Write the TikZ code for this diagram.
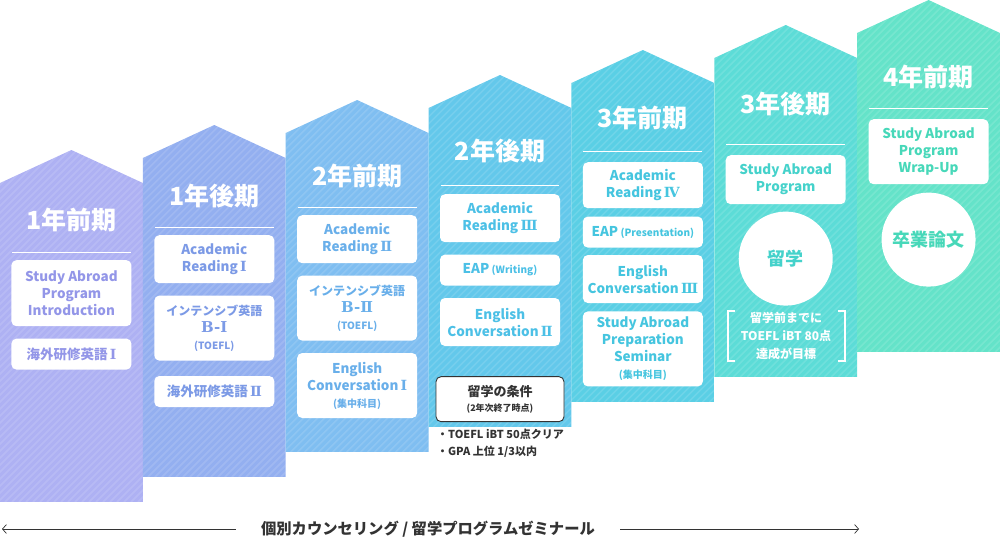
\documentclass[tikz,border=0pt]{standalone}
\usepackage{fontspec}
\setmainfont{Noto Sans CJK JP}
\newfontfamily\numfont{DejaVu Serif}
\usepackage{tikz}
\usetikzlibrary{positioning, arrows.meta}

\definecolor{colA}{HTML}{AEB1F3}
\definecolor{colB}{HTML}{93AFF0}
\definecolor{colC}{HTML}{7FBEF1}
\definecolor{colD}{HTML}{63C8EB}
\definecolor{colE}{HTML}{5ACFE5}
\definecolor{colF}{HTML}{5CDCD7}
\definecolor{colG}{HTML}{64E3C9}
\definecolor{txA}{HTML}{9396E8}
\definecolor{txB}{HTML}{7C9AE6}
\definecolor{txC}{HTML}{69AFEA}
\definecolor{txD}{HTML}{4CC0E6}
\definecolor{txE}{HTML}{45C5DF}
\definecolor{txF}{HTML}{45D2CB}
\definecolor{txG}{HTML}{47D8B9}
\definecolor{ink}{HTML}{333333}

\newcommand{\subtxt}[1]{{\fontsize{10}{13}\selectfont #1}}
\newcommand{\rn}[1]{\,{\numfont\bfseries\fontsize{14}{17}\selectfont #1}}
\newcommand{\grade}[1]{{\numfont\bfseries\fontsize{15}{15}\selectfont B-#1}}

\begin{document}
\begin{tikzpicture}[x=1pt, y=-1pt]
      \tikzstyle{term} = [text=white, font=\bfseries\fontsize{25}{27}\selectfont]
      \tikzstyle{course} = [rectangle, rounded corners=5pt, fill=white, minimum width=120pt, inner sep=0pt, align=center, font=\bfseries\fontsize{13.5}{17}\selectfont]
      \tikzstyle{abroad} = [circle, fill=white, minimum size=94pt, inner sep=0pt, font=\bfseries\fontsize{18}{20}\selectfont]
      \tikzstyle{condbox} = [rectangle, rounded corners=5pt, draw=ink, line width=0.9pt, fill=white, minimum width=128pt, minimum height=45pt, inner sep=0pt, align=center, text=ink, font=\bfseries\fontsize{13}{15}\selectfont]
      \tikzstyle{rule} = [white, line width=0.8pt]
      \tikzstyle{arrow} = [ink, line width=0.7pt, -{Straight Barb[length=4pt,width=9pt]}]

      \useasboundingbox (0,0) rectangle (1000,539);

      % stepped columns
      \foreach \i/\c in {0/colA,1/colB,2/colC,3/colD,4/colE,5/colF,6/colG}{
        \pgfmathsetmacro{\xl}{142.857*\i}
        \pgfmathsetmacro{\xr}{142.857*(\i+1)}
        \pgfmathsetmacro{\xm}{142.857*(\i+0.5)}
        \pgfmathsetmacro{\yp}{150-25*\i}
        \pgfmathsetmacro{\ys}{183-25*\i}
        \pgfmathsetmacro{\yb}{502-25*\i}
        \begin{scope}
          \path[clip] (\xl,\yb) -- (\xl,\ys) -- (\xm,\yp) -- (\xr,\ys) -- (\xr,\yb) -- cycle;
          \fill[\c] (\xl-1,0) rectangle (\xr+1,\yb);
          \foreach \s in {-520,-513,...,150}
            \draw[white, opacity=0.12, line width=1.6pt] (\xl+\s,\yb) -- ++(520,-520);
        \end{scope}
      }

      \foreach \i/\y in {0/252,1/227,2/207,3/185,4/151,5/144,6/108}
        \draw[rule] ({142.857*\i+12},\y) -- ({142.857*\i+130.857},\y);

      \node (t1) [term] at (71.43,220) {1年前期};
      \node (t2) [term] at (214.29,196) {1年後期};
      \node (t3) [term] at (357.14,176) {2年前期};
      \node (t4) [term] at (500,151) {2年後期};
      \node (t5) [term] at (642.86,118) {3年前期};
      \node (t6) [term] at (785.71,104) {3年後期};
      \node (t7) [term] at (928.57,77) {4年前期};

      % 1年前期
      \node (sa1) [course, text=txA, minimum height=66pt, anchor=north] at (71.43,260) {Study Abroad\\Program\\Introduction};
      \node (ov1) [course, text=txA, minimum height=31pt, below=12pt of sa1] {海外研修英語\rn{Ⅰ}};

      % 1年後期
      \node (ar1) [course, text=txB, minimum height=48pt, anchor=north] at (214.29,235) {Academic\\Reading\rn{Ⅰ}};
      \node (ie1) [course, text=txB, minimum height=65pt, below=12pt of ar1] {{\fontsize{12}{15}\selectfont インテンシブ英語}\\\grade{Ⅰ}\\\subtxt{(TOEFL)}};
      \node (ov2) [course, text=txB, minimum height=31pt, below=15pt of ie1] {海外研修英語\rn{Ⅱ}};

      % 2年前期
      \node (ar2) [course, text=txC, minimum height=48pt, anchor=north] at (357.14,215) {Academic\\Reading\rn{Ⅱ}};
      \node (ie2) [course, text=txC, minimum height=65pt, below=12pt of ar2] {{\fontsize{12}{15}\selectfont インテンシブ英語}\\\grade{Ⅱ}\\\subtxt{(TOEFL)}};
      \node (ec1) [course, text=txC, minimum height=65pt, below=12pt of ie2] {English\\Conversation\rn{Ⅰ}\\\subtxt{(集中科目)}};

      % 2年後期
      \node (ar3) [course, text=txD, minimum height=48pt, anchor=north] at (500,194) {Academic\\Reading\rn{Ⅲ}};
      \node (eap1) [course, text=txD, minimum height=31pt, below=12pt of ar3] {EAP\,\subtxt{(Writing)}};
      \node (ec2) [course, text=txD, minimum height=48pt, below=12pt of eap1] {English\\Conversation\rn{Ⅱ}};
      \node (cond) [condbox, below=30pt of ec2] {留学の条件\\{\fontsize{9}{12}\selectfont (2年次終了時点)}};
      \node (req) [anchor=north west, align=left, text=ink, font=\bfseries\fontsize{11}{17}\selectfont] at ([xshift=-2pt,yshift=-3pt]cond.south west) {・TOEFL iBT 50点クリア\\・GPA 上位 1/3以内};

      % 3年前期
      \node (ar4) [course, text=txE, minimum height=46pt, anchor=north] at (642.86,162) {Academic\\Reading\rn{Ⅳ}};
      \node (eap2) [course, text=txE, minimum height=31pt, below=8pt of ar4] {EAP\,\subtxt{(Presentation)}};
      \node (ec3) [course, text=txE, minimum height=48pt, below=7pt of eap2] {English\\Conversation\rn{Ⅲ}};
      \node (prep) [course, text=txE, minimum height=75pt, below=8pt of ec3] {Study Abroad\\Preparation\\Seminar\\\subtxt{(集中科目)}};

      % 3年後期
      \node (sa2) [course, text=txF, minimum height=49pt, anchor=north] at (785.71,155) {Study Abroad\\Program};
      \node (stay) [abroad, text=txF, below=7pt of sa2] {留学};
      \node (goal) [text=white, align=center, font=\bfseries\fontsize{12}{18}\selectfont] at (786,336) {留学前までに\\TOEFL iBT 80点\\達成が目標};
      \draw[white, line width=1.3pt] (735,311) -- (728,311) -- (728,361) -- (735,361);
      \draw[white, line width=1.3pt] (838,311) -- (845,311) -- (845,361) -- (838,361);

      % 4年前期
      \node (sa3) [course, text=txG, minimum height=65pt, anchor=north] at (928.57,119) {Study Abroad\\Program\\Wrap-Up};
      \node (thesis) [abroad, text=txG, below=8pt of sa3] {卒業論文};

      % counselling line
      \node (counsel) [text=ink, outer xsep=22pt, font=\bfseries\fontsize{15.3}{17}\selectfont] at (428,529) {個別カウンセリング / 留学プログラムゼミナール};
      \coordinate (past) at (2,529);
      \coordinate (future) at (859,529);
      \draw [arrow] (counsel.west) -- (past);
      \draw [arrow] (counsel.east) -- (future);

\end{tikzpicture}
\end{document}
